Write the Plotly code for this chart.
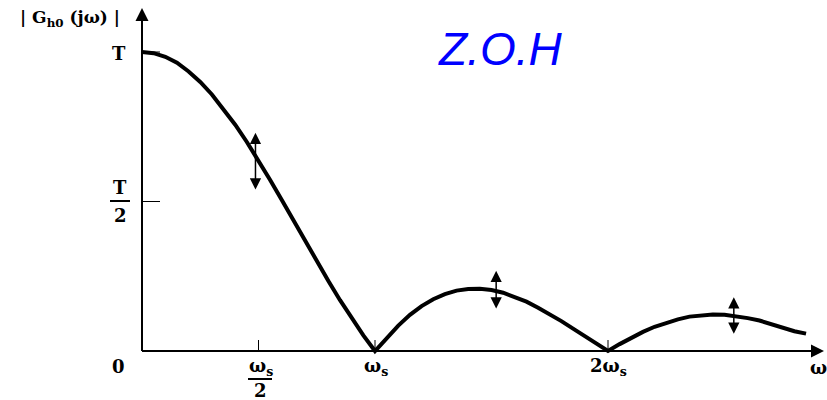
import plotly.graph_objects as go

# Frequency in units of omega_s, magnitude in units of T
omega = [0.0, 0.05, 0.1, 0.15, 0.2, 0.25, 0.3, 0.35, 0.4, 0.45, 0.5, 0.55, 0.6, 0.65, 0.7, 0.75,
         0.8, 0.85, 0.9, 0.95, 1.0, 1.05, 1.1, 1.15, 1.2, 1.25, 1.3, 1.35, 1.4, 1.45, 1.5, 1.55,
         1.6, 1.65, 1.7, 1.75, 1.8, 1.85, 1.9, 1.95, 2.0, 2.05, 2.1, 2.15, 2.2, 2.25, 2.3, 2.35,
         2.4, 2.45, 2.5, 2.55, 2.6, 2.65, 2.7, 2.75, 2.8, 2.85]
magnitude = [1.0, 0.996, 0.984, 0.964, 0.935, 0.900, 0.858, 0.810, 0.757, 0.699, 0.637, 0.572,
             0.505, 0.436, 0.368, 0.300, 0.234, 0.170, 0.109, 0.052, 0.0, 0.045, 0.085, 0.121,
             0.150, 0.173, 0.190, 0.202, 0.207, 0.208, 0.204, 0.195, 0.181, 0.165, 0.145, 0.124,
             0.100, 0.075, 0.050, 0.025, 0.0, 0.023, 0.045, 0.064, 0.081, 0.095, 0.106, 0.115,
             0.120, 0.122, 0.121, 0.117, 0.110, 0.102, 0.090, 0.078, 0.066, 0.058]

# Double arrows marking the sample points (omega, low, high)
arrow_x = [0.487, 1.52, 2.54]
arrow_lo = [0.535, 0.137, 0.053]
arrow_hi = [0.73, 0.268, 0.18]

x_ticks = [0.5, 1.0, 2.0]
y_ticks = [1.0, 0.5]

PX = 233.0   # pixels per omega_s
PY = 299.0   # pixels per T
X0, Y0 = 142.0, 351.0

def dx(px):
    return (px - X0) / PX

def dy(py):
    return (Y0 - py) / PY

fig = go.Figure()
fig.add_trace(go.Scatter(x=omega, y=magnitude, mode="lines",
                         line=dict(color="black", width=4), hoverinfo="skip"))

serif = "DejaVu Serif"
ann = []
# axes with arrows
ann.append(dict(x=0, y=dy(8), ax=0, ay=0, xref="x", yref="y", axref="x", ayref="y",
                showarrow=True, arrowhead=2, arrowsize=1.3, arrowwidth=2, arrowcolor="black", text=""))
ann.append(dict(x=dx(824), y=0, ax=0, ay=0, xref="x", yref="y", axref="x", ayref="y",
                showarrow=True, arrowhead=2, arrowsize=1.3, arrowwidth=2, arrowcolor="black", text=""))
# double arrows
for xa, lo, hi in zip(arrow_x, arrow_lo, arrow_hi):
    ann.append(dict(x=xa, y=hi, ax=xa, ay=lo, xref="x", yref="y", axref="x", ayref="y",
                    showarrow=True, arrowhead=2, startarrowhead=2, arrowside="end+start",
                    arrowsize=1.5, startarrowsize=1.5, arrowwidth=1.5, arrowcolor="black", text=""))

def label(text, px, py, size=18, color="black", family=serif):
    ann.append(dict(x=dx(px), y=dy(py), xref="x", yref="y", text=text, showarrow=False,
                    xanchor="center", yanchor="middle",
                    font=dict(family=family, size=size, color=color)))

label("<b>| G<sub>h0</sub> (jω) |</b>", 70, 18, size=17)
label("<b>T</b>", 119, 53)
label("<b>T</b>", 120, 187)
label("<b>2</b>", 120, 215)
label("<b>0</b>", 118, 366)
label("<b>ω<sub>s</sub></b>", 261, 367)
label("<b>2</b>", 260, 390)
label("<b>ω<sub>s</sub></b>", 376, 367)
label("<b>2ω<sub>s</sub></b>", 608, 367)
label("<b>ω</b>", 818, 367)
label("<i>Z.O.H</i>", 500, 49, size=46, color="#0000FF", family="Liberation Sans")

shapes = []
# fraction bars
shapes.append(dict(type="line", xref="x", yref="y", x0=dx(110), x1=dx(130), y0=dy(201), y1=dy(201),
                   line=dict(color="black", width=2)))
shapes.append(dict(type="line", xref="x", yref="y", x0=dx(248), x1=dx(272), y0=dy(379), y1=dy(379),
                   line=dict(color="black", width=2)))
# axis lines
shapes.append(dict(type="line", xref="x", yref="y", x0=0, x1=0, y0=0, y1=dy(12),
                   line=dict(color="black", width=2)))
shapes.append(dict(type="line", xref="x", yref="y", x0=0, x1=dx(818), y0=0, y1=0,
                   line=dict(color="black", width=2)))
# ticks
for t in x_ticks:
    shapes.append(dict(type="line", xref="x", yref="y", x0=t, x1=t, y0=0, y1=dy(340),
                       line=dict(color="black", width=1)))
for t in y_ticks:
    shapes.append(dict(type="line", xref="x", yref="y", x0=0, x1=dx(160), y0=t, y1=t,
                       line=dict(color="black", width=1)))

fig.update_layout(
    width=827, height=400, margin=dict(l=0, r=0, t=0, b=0),
    paper_bgcolor="white", plot_bgcolor="white", showlegend=False,
    xaxis=dict(range=[dx(0), dx(827)], visible=False, fixedrange=True),
    yaxis=dict(range=[dy(400), dy(0)], visible=False, fixedrange=True),
    annotations=ann, shapes=shapes,
)
fig.write_html("out.html")
